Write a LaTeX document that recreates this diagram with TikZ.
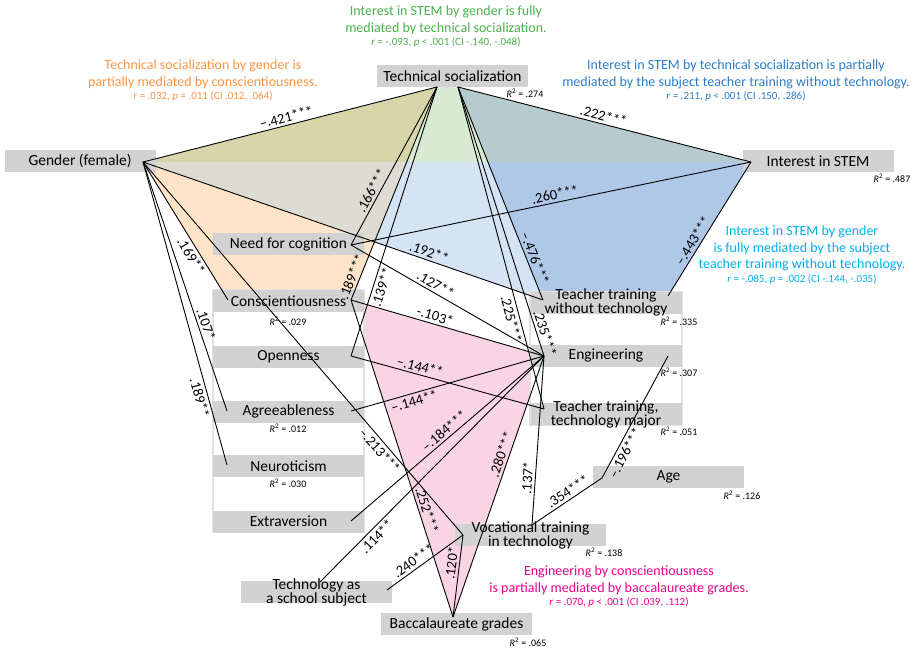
\documentclass[tikz,border=0pt]{standalone}
\usepackage{fontspec}
\setmainfont{Carlito}
\usetikzlibrary{calc}

\definecolor{boxgray}{RGB}{210,210,210}
\definecolor{framegray}{RGB}{226,226,226}
\definecolor{olivefill}{RGB}{214,214,170}
\definecolor{greenfill}{RGB}{217,234,211}
\definecolor{tealfill}{RGB}{181,203,205}
\definecolor{grayfill}{RGB}{221,219,210}
\definecolor{orangefill}{RGB}{253,228,200}
\definecolor{lbluefill}{RGB}{213,228,245}
\definecolor{dbluefill}{RGB}{175,200,232}
\definecolor{pinkfill}{RGB}{248,212,228}
\definecolor{notegreen}{RGB}{76,178,76}
\definecolor{noteorange}{RGB}{247,150,70}
\definecolor{noteblue}{RGB}{46,125,200}
\definecolor{notecyan}{RGB}{0,176,240}
\definecolor{notepink}{RGB}{236,0,140}

\newcommand\rfont{\fontsize{11}{12}\selectfont}
\newcommand\rsq{\textit{R}\textsuperscript{2}}

\begin{document}
\begin{tikzpicture}[x=1pt,y=-1pt,
    bar/.style={fill=boxgray,minimum width=151pt,minimum height=22pt,inner sep=0pt,font=\fontsize{15.5}{15.5}\selectfont},
    twoline/.style={align=center,inner sep=0pt,font=\fontsize{15.5}{14}\selectfont},
    colframe/.style={draw=framegray,line width=1.5pt,fill=white},
    link/.style={line width=0.9pt},
    coef/.style={sloped,inner sep=2.5pt,font=\fontsize{14.5}{14.5}\selectfont},
    rsqlbl/.style={inner sep=0pt,font=\fontsize{10}{10}\selectfont},
    note/.style={align=center,inner sep=0pt,anchor=north,font=\fontsize{14}{16.5}\selectfont}]
  \fill[white] (0,0) rectangle (916,649);
  \useasboundingbox (0,0) rectangle (916,649);

  % anchor points of the paths
  \coordinate (gen) at (143,162);
  \coordinate (tsL) at (437,87);
  \coordinate (tsR) at (458,87);
  \coordinate (int) at (751,162);
  \coordinate (nfc) at (351,245);
  \coordinate (conR) at (351,300);
  \coordinate (conL) at (228,300);
  \coordinate (opn) at (351,356);
  \coordinate (agrR) at (351,411);
  \coordinate (agrL) at (227,411);
  \coordinate (neuL) at (227,465);
  \coordinate (extR) at (351,521);
  \coordinate (ttwt) at (543,300);
  \coordinate (ttwtR) at (668,296);
  \coordinate (eng) at (544,356);
  \coordinate (engR) at (668,356);
  \coordinate (tttm) at (544,409);
  \coordinate (voc) at (463,535);
  \coordinate (vocR) at (532,525);
  \coordinate (age) at (602,478);
  \coordinate (tsc) at (387,590);
  \coordinate (tscT) at (320,582);
  \coordinate (bac) at (453,617);
  \coordinate (xa) at (406.7,162);
  \coordinate (xb) at (488,162);
  \coordinate (xc) at (374.4,241.9);

  % mediation areas
  \fill[olivefill] (gen) -- (tsL) -- (xa) -- cycle;
  \fill[greenfill] (tsL) -- (tsR) -- (xb) -- (xa) -- cycle;
  \fill[tealfill] (tsR) -- (int) -- (xb) -- cycle;
  \fill[grayfill] (gen) -- (xa) -- (xc) -- cycle;
  \fill[orangefill] (gen) -- (xc) -- (conR) -- (conL) -- cycle;
  \fill[lbluefill] (xa) -- (xb) -- (ttwt) -- (xc) -- cycle;
  \fill[dbluefill] (xb) -- (int) -- (ttwtR) -- (ttwt) -- cycle;
  \fill[pinkfill] (conR) -- (eng) -- (bac) -- cycle;

  % variables
  \draw[colframe] (213,290) rectangle (364,532);
  \draw[colframe] (530,292) rectangle (682,425);
  \node[bar] (tsbox) at (452.5,76) {Technical socialization};
  \node[bar] (genbox) at (80,161) {Gender (female)};
  \node[bar] (intbox) at (818,161) {Interest in STEM};
  \node[bar] (nfcbox) at (288.5,244) {Need for cognition};
  \node[bar] (conbox) at (288.5,301) {Conscientiousness};
  \node[bar] (opnbox) at (288.5,356.5) {Openness};
  \node[bar] (agrbox) at (288.5,411.5) {Agreeableness};
  \node[bar] (neubox) at (288.5,466) {Neuroticism};
  \node[bar] (extbox) at (288.5,521.5) {Extraversion};
  \node[bar,label={[twoline]center:Teacher training\\without technology}] (ttwtbox) at (606,302.5) {};
  \node[bar] (engbox) at (606,355.5) {Engineering};
  \node[bar,label={[twoline]center:Teacher training,\\technology major}] (tttmbox) at (606,414) {};
  \node[bar] (agebox) at (668.5,477) {Age};
  \node[bar,label={[twoline]center:Vocational training\\in technology}] (vocbox) at (530.5,535) {};
  \node[bar,label={[twoline]center:Technology as\\a school subject}] (tscbox) at (316.5,592) {};
  \node[bar] (bacbox) at (456.5,624) {Baccalaureate grades};

  \node[rsqlbl] (rts) at (525,93) {\rsq{} = .274};
  \node[rsqlbl] (rint) at (892,178) {\rsq{} = .487};
  \node[rsqlbl] (rcon) at (288,321) {\rsq{} = .029};
  \node[rsqlbl] (ragr) at (288,428) {\rsq{} = .012};
  \node[rsqlbl] (rneu) at (288,483) {\rsq{} = .030};
  \node[rsqlbl] (rttwt) at (679,321) {\rsq{} = .335};
  \node[rsqlbl] (reng) at (679,372) {\rsq{} = .307};
  \node[rsqlbl] (rtttm) at (679,431) {\rsq{} = .051};
  \node[rsqlbl] (rage) at (742,495) {\rsq{} = .126};
  \node[rsqlbl] (rvoc) at (604,552) {\rsq{} = .138};
  \node[rsqlbl] (rbac) at (528,642) {\rsq{} = .065};

  % paths
  \draw[link] (gen) -- node[coef,pos=.494,above] {–.421***} (tsL);
  \draw[link] (tsR) -- node[coef,pos=.49,above] {.222***} (int);
  \draw[link] (nfc) -- node[coef,pos=.514,above] {.260***} (int);
  \draw[link] (tsL) -- node[coef,pos=.681,above] {.166***} (nfc);
  \draw[link] (tsL) -- node[coef,pos=.904,above] {.189***} (conR);
  \draw[link] (tsL) -- node[coef,pos=.734,below] {.139**} (opn);
  \draw[link] (tsR) -- node[coef,pos=.818,above] {–.476***} (ttwt);
  \draw[link] (tsR) -- node[coef,pos=.714,below] {.225***} (tttm);
  \draw[link] (tsR) -- node[coef,pos=.924,above] {.235***} (eng);
  \draw[link] (int) -- node[coef,pos=.618,above] {–.443***} (ttwtR);
  \draw[link] (gen) -- node[coef,pos=.709,above] {.192**} (ttwt);
  \draw[link] (nfc) -- node[coef,pos=.418,above] {.127**} (eng);
  \draw[link] (conR) -- node[coef,pos=.425,above] {-.103*} (eng);
  \draw[link] (opn) -- node[coef,pos=.347,above] {–.144**} (tttm);
  \draw[link] (agrR) -- node[coef,pos=.315,below] {–.144**} (eng);
  \draw[link] (extR) -- node[coef,pos=.509,above] {–.184***} (eng);
  \draw[link] (tscT) -- node[coef,pos=.227,below] {.114**} (eng);
  \draw[link] (bac) -- node[coef,pos=.614,above] {.280***} (eng);
  \draw[link] (conR) -- node[coef,pos=.671,above] {.252***} (bac);
  \draw[link] (gen) -- node[coef,pos=.759,below] {–.213***} (voc);
  \draw[link] (bac) -- node[coef,pos=.647,above] {.120*} (voc);
  \draw[link] (tsc) -- node[coef,pos=.412,above] {.240***} (voc);
  \draw[link] (vocR) -- node[coef,pos=.275,above] {.137*} (eng);
  \draw[link] (age) -- node[coef,pos=.424,above] {.354***} (vocR);
  \draw[link] (engR) -- node[coef,pos=.763,below] {–.196***} (age);
  \draw[link] (gen) -- node[coef,pos=.651,below] {.169**} (conL);
  \draw[link] (gen) -- node[coef,pos=.661,above] {.107*} (agrL);
  \draw[link] (gen) -- node[coef,pos=.771,below] {.189**} (neuL);

  % mediation notes
  \node[note,text=notegreen] (medgreen) at (446,6) {Interest in STEM by gender is fully\\mediated by technical socialization.\\[-3pt]{\rfont\textit{r} = -.093, \textit{p} < .001 (CI -.140, -.048)}};
  \node[note,text=noteorange] (medorange) at (203,60) {Technical socialization by gender is\\partially mediated by conscientiousness.\\[-3pt]{\rfont\textit{r} = .032, \textit{p} = .011 (CI .012, .064)}};
  \node[note,text=noteblue] (medblue) at (736,60) {Interest in STEM by technical socialization is partially\\mediated by the subject teacher training without technology.\\[-3pt]{\rfont\textit{r} = .211, \textit{p} < .001 (CI .150, .286)}};
  \node[note,text=notecyan] (medcyan) at (802,226) {Interest in STEM by gender\\is fully mediated by the subject\\teacher training without technology.\\[-3pt]{\rfont\textit{r} = -.085, \textit{p} = .002 (CI -.144, -.035)}};
  \node[note,text=notepink] (medpink) at (619,566) {Engineering by conscientiousness\\is partially mediated by baccalaureate grades.\\[-3pt]{\rfont\textit{r} = .070, \textit{p} < .001 (CI .039, .112)}};
\end{tikzpicture}
\end{document}
